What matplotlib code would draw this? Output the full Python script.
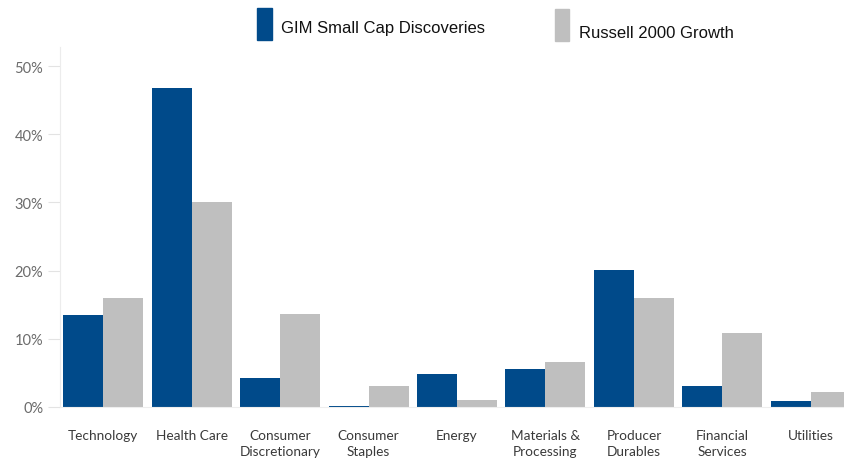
import matplotlib
matplotlib.use("Agg")
import matplotlib.pyplot as plt
from matplotlib.patches import Rectangle
import numpy as np

categories = ["Technology", "Health Care", "Consumer\nDiscretionary", "Consumer\nStaples",
              "Energy", "Materials &\nProcessing", "Producer\nDurables", "Financial\nServices",
              "Utilities"]
gim = [13.5, 46.8, 4.3, 0.2, 4.8, 5.6, 20.1, 3.1, 0.9]
russell = [16.0, 30.1, 13.6, 3.1, 1.0, 6.6, 16.0, 10.9, 2.2]
series_names = ["GIM Small Cap Discoveries", "Russell 2000 Growth"]
yticks = [0, 10, 20, 30, 40, 50]

blue = "#004A8A"
gray = "#BFBFBF"

fig = plt.figure(figsize=(8.44, 4.6), dpi=100)
W, H = 844, 460
ax = fig.add_axes([60 / W, 52 / H, (844 - 60) / W, (408 - 48) / H])

x = np.arange(len(categories))
w = 0.452
ax.bar(x - w / 2, gim, width=w, color=blue, edgecolor="none")
ax.bar(x + w / 2, russell, width=w, color=gray, edgecolor="none")

ax.set_xlim(-0.486, 8.373)
ax.set_ylim(0, 52.8)
ax.set_yticks(yticks)
ax.set_yticklabels([f"{v}%" for v in yticks], fontsize=10.5, color="#6b6b6b", family="Lato")
ax.tick_params(axis="y", length=9, width=0.8, color="#e3e3e3", pad=3)
ax.set_xticks(x)
ax.set_xticklabels(categories, fontsize=9.8, color="#3a3a3a", family="Lato", linespacing=1.4, va="top")
ax.tick_params(axis="x", length=0, pad=16)

for s in ["top", "right"]:
    ax.spines[s].set_visible(False)
ax.spines["left"].set_color("#ececec")
ax.spines["left"].set_linewidth(0.8)
ax.spines["bottom"].set_color("#eeeeee")
ax.spines["bottom"].set_linewidth(0.8)

# Legend
fig.patches.append(Rectangle((257 / W, 1 - 41 / H), 15 / W, 32 / H, transform=fig.transFigure,
                             color=blue, figure=fig))
fig.text(281 / W, 1 - 29 / H, series_names[0], fontsize=12, family="Liberation Sans",
         va="center", ha="left", color="#111111")
fig.patches.append(Rectangle((555 / W, 1 - 42 / H), 14 / W, 32 / H, transform=fig.transFigure,
                             color=gray, figure=fig))
fig.text(579 / W, 1 - 34 / H, series_names[1], fontsize=12, family="Liberation Sans",
         va="center", ha="left", color="#111111")

fig.savefig("out.png", dpi=100)
